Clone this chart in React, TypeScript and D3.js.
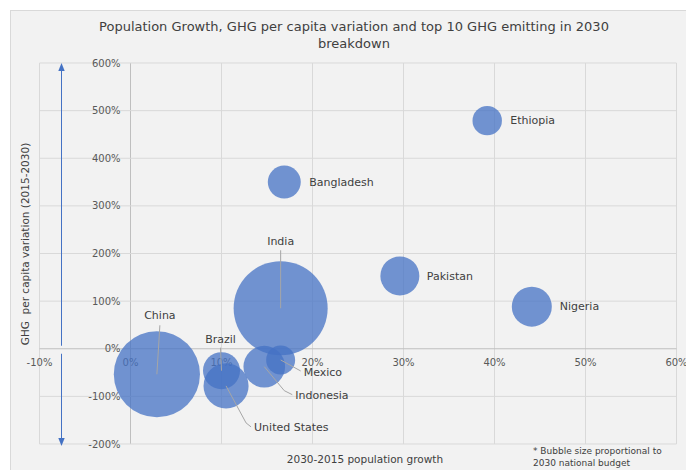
import React from "react";
import * as d3 from "d3";

const countries = ["China", "India", "United States", "Indonesia", "Brazil", "Mexico", "Nigeria", "Pakistan", "Bangladesh", "Ethiopia"];
const popGrowth = [2.9, 16.5, 10.5, 14.7, 10.0, 16.5, 44.1, 29.6, 16.9, 39.2];
const ghgVariation = [-53.6, 85, -78, -37.6, -46, -23.5, 88.4, 153, 350, 479];
const budgetSize = [84, 100, 23, 19.6, 15.5, 9.5, 18.1, 17.2, 12.3, 9.8];

const xTicks = [-10, 0, 10, 20, 30, 40, 50, 60];
const yTicks = [-200, -100, 0, 100, 200, 300, 400, 500, 600];

// label layout (pixel offsets from bubble centre)
const labelLayout: { dx: number; dy: number; anchor: string; leader: number[][] | null }[] = [
  { dx: 3, dy: -59, anchor: "middle", leader: [[3, -49], [0, 0]] },
  { dx: 0, dy: -67, anchor: "middle", leader: [[0, -58], [0, 0]] },
  { dx: 28, dy: 41, anchor: "start", leader: [[0, 0], [20, 37], [25, 41]] },
  { dx: 31, dy: 28, anchor: "start", leader: [[0, 0], [20, 24], [28, 28]] },
  { dx: -1, dy: -32, anchor: "middle", leader: [[-1, -23], [0, 0]] },
  { dx: 23, dy: 12, anchor: "start", leader: [[0, 0], [20, 11]] },
  { dx: 28, dy: 0, anchor: "start", leader: null },
  { dx: 27, dy: 0, anchor: "start", leader: null },
  { dx: 25, dy: 0, anchor: "start", leader: null },
  { dx: 23, dy: 0, anchor: "start", leader: null },
];

const FONT = "'DejaVu Sans', sans-serif";

export default function App() {
  const x = d3.scaleLinear().domain([-10, 60]).range([39.5, 676.5]);
  const y = d3.scaleLinear().domain([-200, 600]).range([444, 63]);
  const r = d3.scaleSqrt().domain([0, d3.max(budgetSize) as number]).range([0, 47]);
  const line = d3.line();

  const data = countries.map((c, i) => ({
    name: c,
    cx: x(popGrowth[i]),
    cy: y(ghgVariation[i]),
    r: r(budgetSize[i]),
    lay: labelLayout[i],
  }));

  return (
    <svg width={686} height={470} style={{ position: "absolute", left: 0, top: 0, fontFamily: FONT }}>
      <defs>
        <marker id="arr" viewBox="0 0 10 10" refX="5" refY="5" markerWidth="8" markerHeight="8" orient="auto-start-reverse" markerUnits="userSpaceOnUse">
          <path d="M0,1 L10,5 L0,9 Z" fill="#4472c4" />
        </marker>
      </defs>
      <rect x={0} y={0} width={686} height={470} fill="#ffffff" />
      <rect x={10.5} y={10.5} width={690} height={470} fill="#f2f2f2" stroke="#d9d9d9" />
      <text x={354} y={31} textAnchor="middle" fontSize={13} fill="#404040">
        Population Growth, GHG per capita variation and top 10 GHG emitting in 2030
      </text>
      <text x={354} y={48} textAnchor="middle" fontSize={13} fill="#404040">breakdown</text>

      {/* gridlines */}
      {xTicks.map((t) => (
        <line key={"gx" + t} x1={x(t)} x2={x(t)} y1={y(600)} y2={y(-200)} stroke={t === 0 ? "#bfbfbf" : "#d9d9d9"} strokeWidth={1} />
      ))}
      {yTicks.map((t) => (
        <line key={"gy" + t} x1={x(-10)} x2={x(60)} y1={y(t)} y2={y(t)} stroke={t === 0 ? "#bfbfbf" : "#d9d9d9"} strokeWidth={1} />
      ))}

      {/* y tick labels */}
      {yTicks.map((t) => (
        <text key={"ly" + t} x={x(0) - 10} y={y(t)} dy="0.35em" textAnchor="end" fontSize={10} fill="#595959">
          {t + "%"}
        </text>
      ))}
      {/* x tick labels */}
      {xTicks.map((t) => (
        <text key={"lx" + t} x={x(t)} y={y(0) + 14} dy="0.35em" textAnchor="middle" fontSize={10} fill="#595959">
          {t + "%"}
        </text>
      ))}

      {/* arrows */}
      <line x1={61.5} x2={61.5} y1={y(0) - 3} y2={y(600) + 4} stroke="#4472c4" strokeWidth={1} markerEnd="url(#arr)" />
      <line x1={61.5} x2={61.5} y1={y(0) + 5} y2={y(-200) - 2} stroke="#4472c4" strokeWidth={1} markerEnd="url(#arr)" />

      {/* bubbles */}
      {data.map((d) => (
        <circle key={d.name} cx={d.cx} cy={d.cy} r={d.r} fill="#4472c4" fillOpacity={0.75} />
      ))}

      {/* leaders */}
      {data.map((d) =>
        d.lay.leader ? (
          <path
            key={"ld" + d.name}
            d={line(d.lay.leader.map((p) => [d.cx + p[0], d.cy + p[1]] as [number, number])) as string}
            fill="none"
            stroke="#a6a6a6"
            strokeWidth={1}
          />
        ) : null
      )}

      {/* labels */}
      {data.map((d) => (
        <text key={"lb" + d.name} x={d.cx + d.lay.dx} y={d.cy + d.lay.dy} dy="0.35em" textAnchor={d.lay.anchor as any} fontSize={11} fill="#404040">
          {d.name}
        </text>
      ))}

      {/* axis titles */}
      <text transform={`translate(29,${244}) rotate(-90)`} textAnchor="middle" fontSize={10.5} fill="#404040" style={{ whiteSpace: "pre" }}>
        {"GHG  per capita variation (2015-2030)"}
      </text>
      <text x={365} y={463} textAnchor="middle" fontSize={10.5} fill="#404040">2030-2015 population growth</text>
      <text x={533} y={454} fontSize={9} fill="#404040">* Bubble size proportional to</text>
      <text x={533} y={466} fontSize={9} fill="#404040">2030 national budget</text>
    </svg>
  );
}
